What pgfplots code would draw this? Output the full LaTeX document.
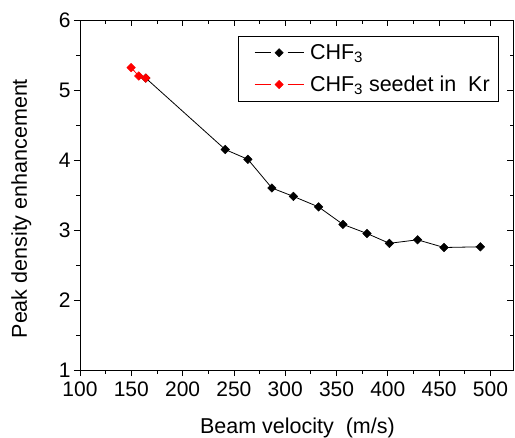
\documentclass[border=0pt]{standalone}
\usepackage{fontspec}
\setmainfont{Liberation Sans}
\usepackage{pgfplots}
\pgfplotsset{compat=1.18}

\begin{document}
\begin{tikzpicture}
\pgfplotsset{
  base/.style={
    scale only axis, width=433pt, height=350pt,
    xmin=100, xmax=522, ymin=1, ymax=6,
    xtick={100,150,...,500}, minor x tick num=1,
    ytick={1,2,...,6}, minor y tick num=1,
    major tick length=6pt, minor tick length=3.5pt,
    every tick/.style={black, line width=0.8pt},
    axis line style={line width=0.8pt},
    /pgf/number format/assume math mode=true,
    ticklabel style={font=\fontsize{21}{25}\selectfont},
  }
}
\begin{axis}[base, name=ax,
    tick align=outside, xtick pos=left, ytick pos=left,
    xticklabel style={yshift=-2pt},
    xlabel={Beam velocity\ \ (m/s)},
    ylabel={Peak density enhancement},
    label style={font=\fontsize{21.5}{25}\selectfont},
    xlabel style={at={(axis description cs:0.502,-0.181)}, anchor=base},
    ylabel style={at={(axis description cs:-0.1224,0.461)}, anchor=base},
    legend style={at={(0.968,0.954)}, anchor=north east, draw=black,
      line width=0.8pt, font=\fontsize{21.5}{25}\selectfont,
      inner xsep=7pt, inner ysep=6pt, row sep=11pt},
    legend cell align=left,
    legend image code/.code={
      \draw[#1,mark=none] (0pt,0pt) -- (16pt,0pt);
      \draw[#1,mark=none] (33pt,0pt) -- (49pt,0pt);
      \draw[#1,only marks,mark size=2.9pt] plot coordinates {(24.5pt,0pt)};
      \path (-9pt,0pt) (53pt,0pt);
    },
]
\addplot[black, line width=0.8pt, mark=square*, mark size=3pt,
  mark options={rotate=45, fill=black, line width=0.5pt}]
coordinates {
  (164.1,5.17) (241.5,4.15) (263.6,4.01) (287,3.60) (308,3.48)
  (332.5,3.33) (356.3,3.08) (379.7,2.95) (401.5,2.81) (429,2.86)
  (454.8,2.75) (490.2,2.76)
};
\addlegendentry{CHF\textsubscript{3}}
\addplot[red, line width=0.8pt, mark=square*, mark size=3pt,
  mark options={rotate=45, fill=red, line width=0.5pt}]
coordinates {
  (149.8,5.32) (157.3,5.20) (164.1,5.17)
};
\addlegendentry{CHF\textsubscript{3} seedet in\ \ Kr}
\end{axis}
\begin{axis}[base,
    tick align=inside, xtick pos=right, ytick pos=right,
    xticklabels={}, yticklabels={}, axis line style={draw=none}]
\end{axis}
\pgfresetboundingbox
\path ([xshift=-80pt,yshift=-67pt]ax.south west) rectangle ([xshift=2pt,yshift=20pt]ax.north east);
\end{tikzpicture}
\end{document}
